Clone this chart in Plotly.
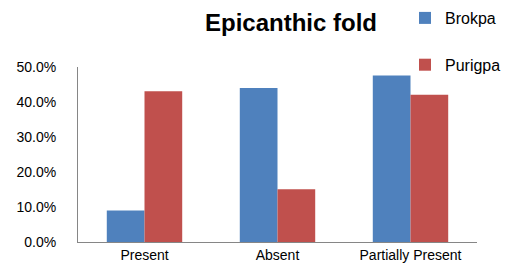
import plotly.graph_objects as go

categories = ["Present", "Absent", "Partially Present"]
brokpa = [0.090, 0.440, 0.476]
purigpa = [0.431, 0.151, 0.421]
series_names = ["Brokpa", "Purigpa"]
colors = ["#4F81BD", "#C0504D"]

fig = go.Figure()
for name, vals, c, g in zip(series_names, [brokpa, purigpa], colors, ["a", "b"]):
    fig.add_trace(go.Bar(x=categories, y=vals, name=name, marker_color=c,
                         marker_line_width=0, legendgroup=g))

font = "Liberation Sans, Arial, sans-serif"
fig.update_layout(
    width=509, height=266,
    margin=dict(l=70, r=40, t=59, b=32, autoexpand=False),
    paper_bgcolor="white", plot_bgcolor="white",
    barmode="group", bargap=0.433, bargroupgap=0,
    showlegend=True,
    legend=dict(x=(397 - 70) / 399, y=(234 + 7) / 175, xref="paper", yref="paper",
                xanchor="left", yanchor="top",
                font=dict(family=font, size=16, color="#000000"),
                tracegroupgap=23, itemwidth=30, bgcolor="rgba(0,0,0,0)"),
    font=dict(family=font, size=14, color="#000000"),
    annotations=[dict(text="<b>Epicanthic fold</b>", x=(283 - 70) / 399, y=(234 - 14) / 175,
                      xref="paper", yref="paper", xanchor="center", yanchor="middle",
                      showarrow=False, font=dict(family=font, size=24, color="#000000"))],
)
fig.update_xaxes(showline=True, linecolor="#868686", linewidth=1, showgrid=False, ticks="",
                 tickfont=dict(size=14, color="#000000"))
fig.update_yaxes(range=[0, 0.5], dtick=0.1, tickformat=".1%", showline=True, linecolor="#868686",
                 linewidth=1, showgrid=False, ticks="", zeroline=False, ticklabelstandoff=18,
                 tickfont=dict(size=14, color="#000000"))
fig.write_html("out.html")
